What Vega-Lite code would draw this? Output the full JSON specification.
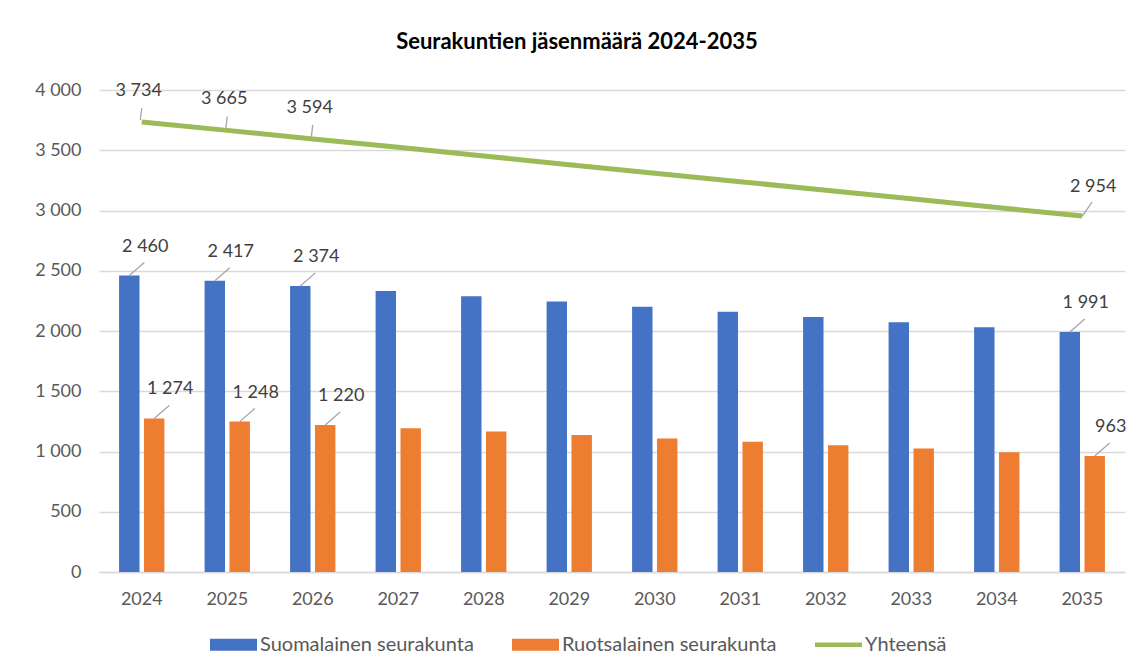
{
  "$schema": "https://vega.github.io/schema/vega-lite/v6.json",
  "width": 1026,
  "height": 482,
  "autosize": {"type": "none"},
  "padding": {"left": 99, "top": 90, "right": 21, "bottom": 100},
  "background": "#ffffff",
  "config": {
    "locale": {"number": {"decimal": ",", "thousands": " ", "grouping": [3], "currency": ["", " €"]}},
    "font": "Lato",
    "view": {"stroke": null},
    "axis": {"labelFont": "Lato", "labelFontSize": 18, "labelColor": "#595959", "ticks": false, "title": null}
  },
  "title": {"text": "Seurakuntien jäsenmäärä 2024-2035", "fontSize": 22, "fontWeight": "bold", "color": "#000000", "offset": 27, "dx": -35, "font": "Lato"},
  "datasets": {
    "d": [
      {"year": 2024, "series": "Suomalainen seurakunta", "value": 2460},
      {"year": 2025, "series": "Suomalainen seurakunta", "value": 2417},
      {"year": 2026, "series": "Suomalainen seurakunta", "value": 2374},
      {"year": 2027, "series": "Suomalainen seurakunta", "value": 2331},
      {"year": 2028, "series": "Suomalainen seurakunta", "value": 2288},
      {"year": 2029, "series": "Suomalainen seurakunta", "value": 2244},
      {"year": 2030, "series": "Suomalainen seurakunta", "value": 2202},
      {"year": 2031, "series": "Suomalainen seurakunta", "value": 2159},
      {"year": 2032, "series": "Suomalainen seurakunta", "value": 2116},
      {"year": 2033, "series": "Suomalainen seurakunta", "value": 2073},
      {"year": 2034, "series": "Suomalainen seurakunta", "value": 2031},
      {"year": 2035, "series": "Suomalainen seurakunta", "value": 1991},
      {"year": 2024, "series": "Ruotsalainen seurakunta", "value": 1274},
      {"year": 2025, "series": "Ruotsalainen seurakunta", "value": 1248},
      {"year": 2026, "series": "Ruotsalainen seurakunta", "value": 1220},
      {"year": 2027, "series": "Ruotsalainen seurakunta", "value": 1193},
      {"year": 2028, "series": "Ruotsalainen seurakunta", "value": 1165},
      {"year": 2029, "series": "Ruotsalainen seurakunta", "value": 1136},
      {"year": 2030, "series": "Ruotsalainen seurakunta", "value": 1108},
      {"year": 2031, "series": "Ruotsalainen seurakunta", "value": 1080},
      {"year": 2032, "series": "Ruotsalainen seurakunta", "value": 1052},
      {"year": 2033, "series": "Ruotsalainen seurakunta", "value": 1024},
      {"year": 2034, "series": "Ruotsalainen seurakunta", "value": 994},
      {"year": 2035, "series": "Ruotsalainen seurakunta", "value": 963},
      {"year": 2024, "series": "Yhteensä", "value": 3734},
      {"year": 2025, "series": "Yhteensä", "value": 3665},
      {"year": 2026, "series": "Yhteensä", "value": 3594},
      {"year": 2027, "series": "Yhteensä", "value": 3524},
      {"year": 2028, "series": "Yhteensä", "value": 3453},
      {"year": 2029, "series": "Yhteensä", "value": 3380},
      {"year": 2030, "series": "Yhteensä", "value": 3310},
      {"year": 2031, "series": "Yhteensä", "value": 3239},
      {"year": 2032, "series": "Yhteensä", "value": 3168},
      {"year": 2033, "series": "Yhteensä", "value": 3097},
      {"year": 2034, "series": "Yhteensä", "value": 3025},
      {"year": 2035, "series": "Yhteensä", "value": 2954}
    ]
  },
  "data": {"name": "d"},
  "encoding": {
    "x": {
      "field": "year", "type": "ordinal",
      "scale": {"paddingInner": 0.47, "paddingOuter": 0.235},
      "axis": {"labelAngle": 0, "domainColor": "#D9D9D9", "domainWidth": 1.5, "labelPadding": 18}
    },
    "y": {
      "field": "value", "type": "quantitative",
      "scale": {"domain": [0, 4000], "nice": false},
      "axis": {"values": [0, 500, 1000, 1500, 2000, 2500, 3000, 3500, 4000], "format": ",d", "domain": false, "grid": true, "gridColor": "#D9D9D9", "gridWidth": 1.5, "labelPadding": 18}
    }
  },
  "layer": [
    {
      "transform": [{"filter": "datum.year < 0"}],
      "mark": {"type": "point", "filled": true, "opacity": 1},
      "encoding": {
        "color": {
          "field": "series", "type": "nominal",
          "scale": {"domain": ["Suomalainen seurakunta", "Ruotsalainen seurakunta", "Yhteensä"], "range": ["#4472C4", "#ED7D31", "#9BBB59"]},
          "legend": {"title": null, "orient": "none", "legendX": 111, "legendY": 531, "direction": "horizontal", "labelFontSize": 20, "labelColor": "#595959", "labelFont": "Lato", "labelLimit": 0, "symbolSize": 2209, "symbolStrokeWidth": 0, "symbolOpacity": 1, "columnPadding": 38, "labelOffset": 3}
        },
        "shape": {
          "field": "series", "type": "nominal",
          "scale": {"domain": ["Suomalainen seurakunta", "Ruotsalainen seurakunta", "Yhteensä"], "range": ["M-1,-0.255H1V0.255H-1Z", "M-1,-0.255H1V0.255H-1Z", "M-1,-0.1H1V0.1H-1Z"]},
          "legend": {"title": null, "orient": "none", "legendX": 111, "legendY": 531, "direction": "horizontal", "labelFontSize": 20, "labelColor": "#595959", "labelFont": "Lato", "labelLimit": 0, "symbolSize": 2209, "symbolStrokeWidth": 0, "symbolOpacity": 1, "columnPadding": 38, "labelOffset": 3}
        }
      }
    },
    {
      "transform": [{"filter": "datum.series != 'Yhteensä'"}],
      "mark": {"type": "bar"},
      "encoding": {
        "xOffset": {"field": "series", "type": "nominal", "scale": {"domain": ["Suomalainen seurakunta", "Ruotsalainen seurakunta"], "paddingInner": 0.18}},
        "color": {"field": "series", "type": "nominal"}
      }
    },
    {
      "transform": [{"filter": "datum.series == 'Yhteensä'"}],
      "mark": {"type": "line", "strokeWidth": 5},
      "encoding": {"color": {"field": "series", "type": "nominal"}}
    },
    {
      "transform": [{"filter": "datum.series != 'Yhteensä' && (datum.year <= 2026 || datum.year == 2035)"}],
      "mark": {"type": "point", "shape": "M0,0L1,-0.87", "size": 900, "filled": false, "color": "#A6A6A6", "strokeWidth": 1.3, "opacity": 1},
      "encoding": {
        "xOffset": {"field": "series", "type": "nominal"}
      }
    },
    {
      "transform": [{"filter": "datum.series != 'Yhteensä' && (datum.year <= 2026 || datum.year == 2035)"}],
      "mark": {"type": "text", "dx": 16, "dy": -29, "fontSize": 18, "color": "#404040", "font": "Lato"},
      "encoding": {
        "xOffset": {"field": "series", "type": "nominal"},
        "text": {"field": "value", "type": "quantitative", "format": ",d"}
      }
    },
    {
      "transform": [{"filter": "datum.series == 'Yhteensä' && datum.year <= 2026"}],
      "mark": {"type": "point", "shape": "M-0.1,-0.15L0,-1", "size": 784, "filled": false, "color": "#A6A6A6", "strokeWidth": 1.3, "opacity": 1},
      "encoding": {}
    },
    {
      "transform": [{"filter": "datum.series == 'Yhteensä' && datum.year <= 2026"}],
      "mark": {"type": "text", "dx": -3, "dy": -31, "fontSize": 18, "color": "#404040", "font": "Lato"},
      "encoding": {"text": {"field": "value", "type": "quantitative", "format": ",d"}}
    },
    {
      "transform": [{"filter": "datum.series == 'Yhteensä' && datum.year == 2035"}],
      "mark": {"type": "point", "shape": "M0,0L0.7,-1", "size": 784, "filled": false, "color": "#A6A6A6", "strokeWidth": 1.3, "opacity": 1},
      "encoding": {}
    },
    {
      "transform": [{"filter": "datum.series == 'Yhteensä' && datum.year == 2035"}],
      "mark": {"type": "text", "dx": 11, "dy": -29, "fontSize": 18, "color": "#404040", "font": "Lato"},
      "encoding": {"text": {"field": "value", "type": "quantitative", "format": ",d"}}
    }
  ]
}
